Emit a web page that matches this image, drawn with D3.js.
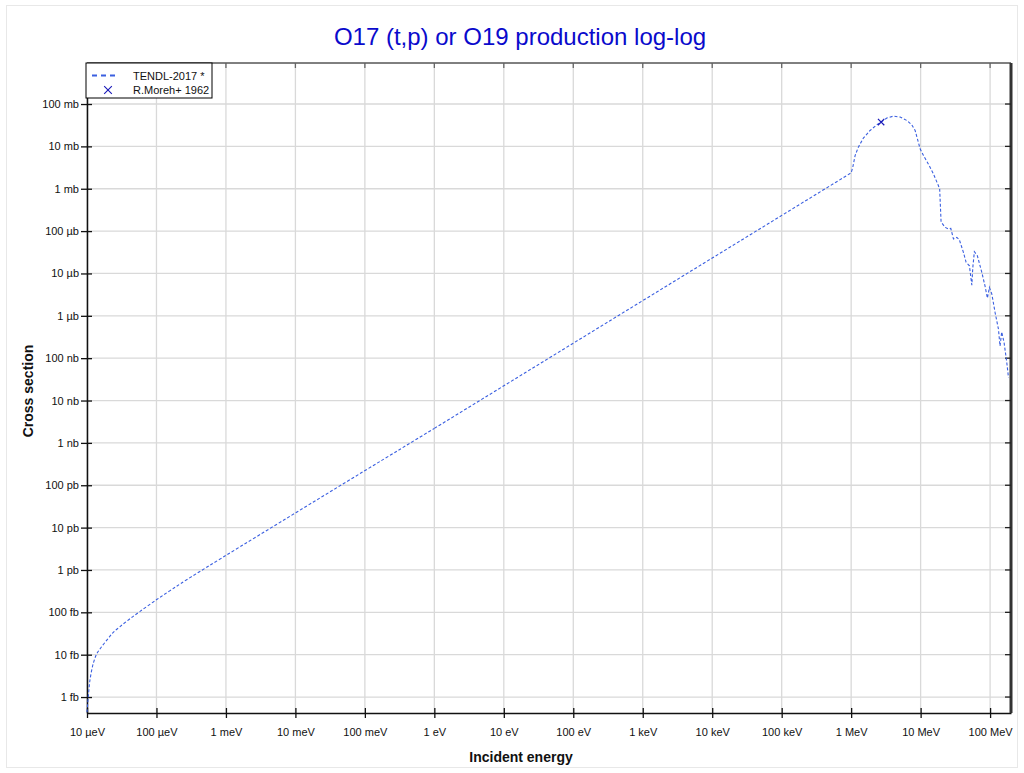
<!DOCTYPE html>
<html>
<head>
<meta charset="utf-8">
<script src="https://cdn.jsdelivr.net/npm/d3@7"></script>
<style>
  body { margin: 0; background: #fff; }
  svg { font-family: "Liberation Sans", Arial, sans-serif; }
</style>
</head>
<body>
<div id="chart"></div>
<script>
// TENDL-2017 curve, energy in eV, cross section in barns
var tendlE = [1.0e-5, 1.044e-5, 1.104e-5, 1.233e-5, 1.38e-5, 1.63e-5, 2.03e-5, 2.39e-5, 2.99e-5, 4.16e-5,
  5.8e-5, 1.008e-4, 1.57e-4, 2.72e-4, 1.0, 1.0e6,
  1.056e6, 1.14e6, 1.27e6, 1.50e6, 1.87e6, 2.34e6, 2.70e6, 3.26e6, 4.06e6, 5.07e6,
  6.32e6, 7.46e6, 8.34e6, 8.99e6, 9.84e6, 1.10e7, 1.29e7, 1.53e7, 1.80e7, 1.88e7,
  1.97e7, 2.25e7, 2.51e7, 2.72e7, 2.97e7, 3.32e7, 3.61e7, 4.13e7, 4.52e7, 5.04e7,
  5.46e7, 5.64e7, 5.94e7, 6.56e7, 7.60e7, 8.48e7, 9.15e7, 9.77e7, 1.06e8, 1.18e8,
  1.32e8, 1.39e8, 1.47e8, 1.59e8, 1.74e8, 1.84e8];
var tendlXS = [4.4e-16, 1.02e-15, 2.53e-15, 6.28e-15, 1.04e-14, 1.55e-14, 2.45e-14, 3.35e-14, 4.6e-14, 7.1e-14,
  1.05e-13, 2.0e-13, 3.25e-13, 5.88e-13, 2.2e-9, 2.37e-3,
  3.23e-3, 6.07e-3, 9.6e-3, 1.57e-2, 2.37e-2, 3.23e-2, 3.75e-2, 4.66e-2, 5.19e-2, 4.92e-2,
  4.09e-2, 3.23e-2, 2.37e-2, 1.51e-2, 8.75e-3, 6.07e-3, 3.86e-3, 2.24e-3, 1.19e-3, 9.9e-4,
  1.64e-4, 1.23e-4, 1.12e-4, 1.16e-4, 6.5e-5, 7.13e-5, 6.25e-5, 3.15e-5, 1.83e-5, 1.52e-5,
  5.3e-6, 1.39e-5, 3.25e-5, 2.62e-5, 1.06e-5, 4.94e-6, 2.61e-6, 4.68e-6, 3.25e-6, 1.20e-6,
  4.82e-7, 1.94e-7, 4.17e-7, 2.34e-7, 7.86e-8, 3.47e-8];

// R.Moreh+ 1962 measurement
var morehE = [2.7e6];
var morehXS = [3.75e-2];

var xTicks = [1e-5, 1e-4, 1e-3, 1e-2, 1e-1, 1, 1e1, 1e2, 1e3, 1e4, 1e5, 1e6, 1e7, 1e8];
var xTickLabels = ["10 µeV", "100 µeV", "1 meV", "10 meV", "100 meV", "1 eV", "10 eV", "100 eV",
  "1 keV", "10 keV", "100 keV", "1 MeV", "10 MeV", "100 MeV"];
var yTicks = [1e-15, 1e-14, 1e-13, 1e-12, 1e-11, 1e-10, 1e-9, 1e-8, 1e-7, 1e-6, 1e-5, 1e-4, 1e-3, 1e-2, 1e-1];
var yTickLabels = ["1 fb", "10 fb", "100 fb", "1 pb", "10 pb", "100 pb", "1 nb", "10 nb", "100 nb",
  "1 µb", "10 µb", "100 µb", "1 mb", "10 mb", "100 mb"];

var legendNames = ["TENDL-2017 *", "R.Moreh+ 1962"];

var W = 1024, H = 773;
var margin = { top: 63, right: 13, bottom: 60, left: 87 },
    width = W - margin.left - margin.right,
    height = H - margin.top - margin.bottom;

var root = d3.select("#chart").append("svg")
    .attr("width", W)
    .attr("height", H);

// faint page frame
root.append("rect")
    .attr("x", 6.5).attr("y", 5.5)
    .attr("width", 1011).attr("height", 762)
    .attr("fill", "none")
    .attr("stroke", "#e8e8e8");

root.append("text")
    .attr("x", 520).attr("y", 45)
    .attr("text-anchor", "middle")
    .attr("font-size", 24)
    .attr("fill", "#0a0acc")
    .text("O17 (t,p) or O19 production log-log");

var svg = root.append("g")
    .attr("transform", "translate(" + margin.left + "," + margin.top + ")");

var x = d3.scaleLog().domain([1e-5, 2e8]).range([0, width]);
var y = d3.scaleLog().domain([4.2e-16, 0.93]).range([height, 0]);

// grid
svg.append("g")
    .selectAll("line")
    .data(xTicks)
    .join("line")
    .attr("x1", d => x(d)).attr("x2", d => x(d))
    .attr("y1", 0).attr("y2", height)
    .attr("stroke", "#d9d9d9").attr("stroke-width", 1.3);
svg.append("g")
    .selectAll("line")
    .data(yTicks)
    .join("line")
    .attr("x1", 0).attr("x2", width)
    .attr("y1", d => y(d)).attr("y2", d => y(d))
    .attr("stroke", "#d9d9d9").attr("stroke-width", 1.3);

// axes
var xAxis = svg.append("g")
    .attr("transform", "translate(0," + height + ")")
    .call(d3.axisBottom(x).tickValues(xTicks)
        .tickFormat((d, i) => xTickLabels[i])
        .tickSizeInner(5).tickSizeOuter(0).tickPadding(10));
xAxis.select(".domain").attr("stroke", "#111").attr("stroke-width", 1.5);
xAxis.selectAll(".tick line").attr("y1", -5).attr("stroke", "#111").attr("stroke-width", 1.3);
xAxis.selectAll(".tick text").attr("font-size", 11).attr("fill", "#111");

var yAxis = svg.append("g")
    .call(d3.axisLeft(y).tickValues(yTicks)
        .tickFormat((d, i) => yTickLabels[i])
        .tickSizeInner(5).tickSizeOuter(0).tickPadding(3));
yAxis.select(".domain").attr("stroke", "#111").attr("stroke-width", 1.5);
yAxis.selectAll(".tick line").attr("x1", 5).attr("x2", -6).attr("stroke", "#111").attr("stroke-width", 1.3);
yAxis.selectAll(".tick text").attr("font-size", 11).attr("fill", "#111");

// top and right frame with inward ticks
svg.append("line")
    .attr("x1", 0).attr("x2", width).attr("y1", 0).attr("y2", 0)
    .attr("stroke", "#000").attr("stroke-width", 1);
svg.append("line")
    .attr("x1", width).attr("x2", width).attr("y1", 0).attr("y2", height)
    .attr("stroke", "#333").attr("stroke-width", 3);
svg.append("g")
    .selectAll("line")
    .data(xTicks)
    .join("line")
    .attr("x1", d => x(d)).attr("x2", d => x(d))
    .attr("y1", 0).attr("y2", 5)
    .attr("stroke", "#666").attr("stroke-width", 1.3);
svg.append("g")
    .selectAll("line")
    .data(yTicks)
    .join("line")
    .attr("x1", width - 6).attr("x2", width)
    .attr("y1", d => y(d)).attr("y2", d => y(d))
    .attr("stroke", "#222").attr("stroke-width", 1.3);

// axis titles
root.append("text")
    .attr("x", margin.left + width / 2 - 28).attr("y", 762)
    .attr("text-anchor", "middle")
    .attr("font-size", 14).attr("font-weight", "bold")
    .attr("fill", "#111")
    .text("Incident energy");
root.append("text")
    .attr("transform", "translate(33," + (margin.top + height / 2 + 3) + ") rotate(-90)")
    .attr("text-anchor", "middle")
    .attr("font-size", 14).attr("font-weight", "bold")
    .attr("fill", "#111")
    .text("Cross section");

// TENDL curve: smooth low-energy rise, then straight segments
var tendl = tendlE.map((e, i) => [e, tendlXS[i]]);
var splitAt = 14; // index of the 1 eV point
var smooth = d3.line()
    .curve(d3.curveCatmullRom.alpha(0.5))
    .x(d => x(d[0]))
    .y(d => y(d[1]));
var straight = d3.line()
    .x(d => x(d[0]))
    .y(d => y(d[1]));
svg.append("path")
    .datum(tendl.slice(0, splitAt + 1))
    .attr("d", smooth)
    .attr("fill", "none")
    .attr("stroke", "#3a5fe0")
    .attr("stroke-width", 1.1)
    .attr("stroke-dasharray", "3,2");
svg.append("path")
    .datum(tendl.slice(splitAt))
    .attr("d", straight)
    .attr("fill", "none")
    .attr("stroke", "#3a5fe0")
    .attr("stroke-width", 1.1)
    .attr("stroke-dasharray", "3,2");

// measured point
var cross = d3.symbol().type(d3.symbolX).size(28);
svg.append("g")
    .selectAll("path")
    .data(morehE.map((e, i) => [e, morehXS[i]]))
    .join("path")
    .attr("transform", d => "translate(" + x(d[0]) + "," + y(d[1]) + ")")
    .attr("d", cross)
    .attr("fill", "none")
    .attr("stroke", "#1a1ab8")
    .attr("stroke-width", 1.2);

// legend
var lg = svg.append("g").attr("transform", "translate(-1,0)");
lg.append("rect")
    .attr("x", 0).attr("y", 0)
    .attr("width", 126).attr("height", 35)
    .attr("fill", "#fff")
    .attr("stroke", "#000").attr("stroke-width", 1);
lg.append("line")
    .attr("x1", 6).attr("x2", 31).attr("y1", 12.5).attr("y2", 12.5)
    .attr("stroke", "#3a5fe0").attr("stroke-width", 2)
    .attr("stroke-dasharray", "5,4");
lg.append("path")
    .attr("transform", "translate(22,27)")
    .attr("d", d3.symbol().type(d3.symbolX).size(40))
    .attr("fill", "none")
    .attr("stroke", "#1a1ab8").attr("stroke-width", 1.1);
lg.selectAll("text.lgtext")
    .data(legendNames)
    .join("text")
    .attr("class", "lgtext")
    .attr("x", 47)
    .attr("y", (d, i) => 16.5 + i * 14.5)
    .attr("font-size", 11)
    .attr("fill", "#111")
    .text(d => d);
</script>
</body>
</html>
